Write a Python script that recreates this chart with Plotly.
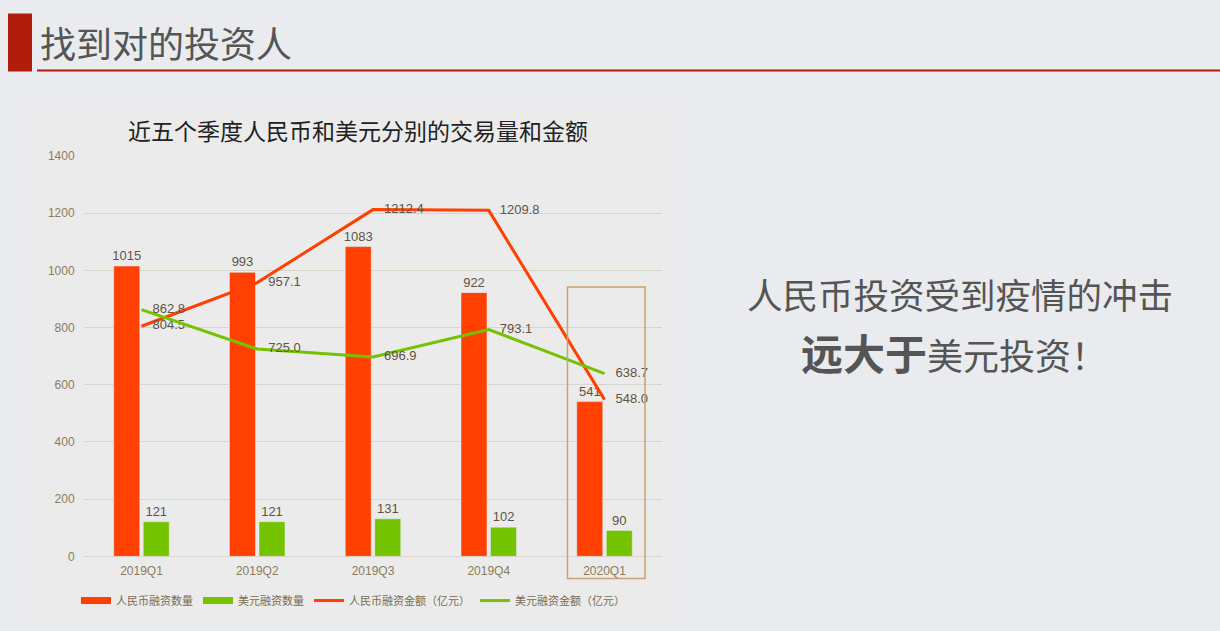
import plotly.graph_objects as go

# data
quarters = ["2019Q1", "2019Q2", "2019Q3", "2019Q4", "2020Q1"]
rmb_count = [1015, 993, 1083, 922, 541]
usd_count = [121, 121, 131, 102, 90]
rmb_amount = [804.5, 957.1, 1212.4, 1209.8, 548.0]
usd_amount = [862.8, 725.0, 696.9, 793.1, 638.7]
y_ticks = [0, 200, 400, 600, 800, 1000, 1200, 1400]

RED = "#ff4000"
GREEN = "#74c200"
LABEL = "#5e5444"
AXIS = "#8a7b5c"
FONT = "Liberation Sans, Noto Sans CJK SC, sans-serif"

W, H = 1220, 631
# the page shows the figure slightly squeezed vertically, so paper
# positions are worked out against the height it actually gets
EFF_H, TOP = 618, 6.5


def px_x(v):
    return v / W


def px_y(v):
    return 1 - (v - TOP) / EFF_H


fig = go.Figure()

# bars
fig.add_trace(go.Bar(
    x=quarters, y=rmb_count, name="人民币融资数量", marker_color=RED,
    text=rmb_count, textposition="outside", cliponaxis=False,
    constraintext="none",
    textfont=dict(size=13, color=LABEL), showlegend=False))
fig.add_trace(go.Bar(
    x=quarters, y=usd_count, name="美元融资数量", marker_color=GREEN,
    text=usd_count, textposition="outside", cliponaxis=False,
    constraintext="none",
    textfont=dict(size=13, color=LABEL), showlegend=False))

# lines (invisible markers push the labels away from the points)
for name, vals, color in [("人民币融资金额（亿元）", rmb_amount, RED),
                          ("美元融资金额（亿元）", usd_amount, GREEN)]:
    fig.add_trace(go.Scatter(
        x=quarters, y=vals, mode="lines+markers+text", name=name,
        line=dict(color=color, width=3),
        marker=dict(size=16, color="rgba(0,0,0,0)"),
        text=[f"{v:.1f}" for v in vals], textposition="middle right",
        textfont=dict(size=13, color=LABEL), showlegend=False,
        cliponaxis=False, hoverinfo="x+y+name"))

# legend entries (bars drawn as thick strokes like the original)
legend_items = [("人民币融资数量", RED, 7), ("美元融资数量", GREEN, 7),
                ("人民币融资金额（亿元）", RED, 3), ("美元融资金额（亿元）", GREEN, 3)]
for name, color, width in legend_items:
    fig.add_trace(go.Scatter(x=[None], y=[None], mode="lines", name=name,
                             line=dict(color=color, width=width)))

shapes = [
    # chart panel
    dict(type="rect", xref="paper", yref="paper", x0=px_x(30), x1=px_x(673),
         y0=px_y(620), y1=px_y(103), fillcolor="#ebebeb", line_width=0,
         layer="below"),
    # header block and rule
    dict(type="rect", xref="paper", yref="paper", x0=px_x(8), x1=px_x(32),
         y0=px_y(71), y1=px_y(13), fillcolor="#b01c0c", line_width=0),
    dict(type="line", xref="paper", yref="paper", x0=px_x(37), x1=1,
         y0=px_y(70), y1=px_y(70), line=dict(color="#b01c0c", width=2)),
    # highlight box around 2020Q1
    dict(type="rect", xref="x", yref="paper", x0=3.68, x1=4.35,
         y0=px_y(579), y1=px_y(287), line=dict(color="#c8a46e", width=1.5),
         fillcolor="rgba(0,0,0,0)"),
]

annotations = [
    dict(text="找到对的投资人", xref="paper", yref="paper", x=px_x(38),
         y=px_y(42), xanchor="left", yanchor="middle", showarrow=False,
         font=dict(size=36, color="#555555", family="Noto Sans CJK SC")),
    dict(text="近五个季度人民币和美元分别的交易量和金额", xref="paper",
         yref="paper", x=px_x(358), y=px_y(130), xanchor="center",
         yanchor="middle", showarrow=False,
         font=dict(size=23, color="#222222", family="Noto Sans CJK SC")),
    dict(text="人民币投资受到疫情的冲击", xref="paper", yref="paper",
         x=px_x(960), y=px_y(293), xanchor="center", yanchor="middle",
         showarrow=False,
         font=dict(size=35.5, color="#555555", family="Noto Sans CJK SC")),
    dict(text="<b><span style='font-size:42px'>远大于</span></b>美元投资！",
         xref="paper", yref="paper",
         x=px_x(954), y=px_y(352), xanchor="center", yanchor="middle",
         showarrow=False,
         font=dict(size=36, color="#555555", family="Noto Sans CJK SC")),
]

fig.update_layout(
    width=W, height=H,
    margin=dict(l=0, r=0, t=0, b=0),
    paper_bgcolor="#e9ebee",
    plot_bgcolor="rgba(0,0,0,0)",
    font=dict(family=FONT, size=12, color=AXIS),
    barmode="group", bargap=0.49, bargroupgap=0.12,
    shapes=shapes, annotations=annotations,
    legend=dict(orientation="h", x=px_x(76), y=px_y(601), xanchor="left",
                yanchor="middle", font=dict(size=11, color="#7a6b50"),
                bgcolor="rgba(0,0,0,0)", itemwidth=30, traceorder="normal"),
    xaxis=dict(domain=[px_x(83.6), px_x(662.4)], showgrid=False,
               showline=False, ticks="", ticklabelstandoff=6,
               tickfont=dict(size=12, color=AXIS)),
    yaxis=dict(domain=[px_y(556.7), px_y(155.7)], range=[0, 1400],
               tickvals=y_ticks, gridcolor="#d9d4ca", gridwidth=1,
               zeroline=True, zerolinecolor="#d9d4ca", zerolinewidth=1,
               showline=False, ticks="", ticklabelstandoff=8,
               tickfont=dict(size=12, color=AXIS)),
)

page_css = ("document.body.style.margin='0';"
            "document.body.style.padding='0';"
            "document.body.style.overflow='hidden';"
            "document.documentElement.style.overflow='hidden';")

fig.write_html("out.html", config={"displayModeBar": False},
               post_script=page_css)
